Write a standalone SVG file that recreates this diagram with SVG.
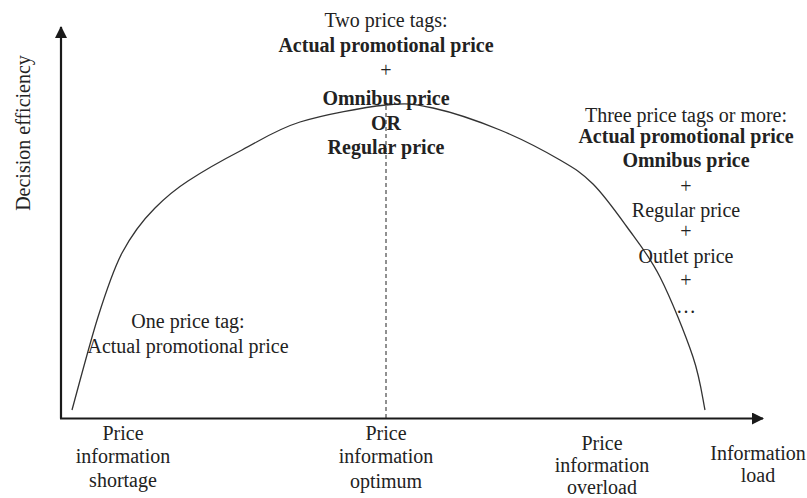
<svg xmlns="http://www.w3.org/2000/svg" width="807" height="498" viewBox="0 0 807 498">
<style>
  text { font-family: "Liberation Serif", "Times New Roman", serif; font-size: 20px; fill: #222; text-anchor: middle; }
  .b { font-weight: bold; }
  .axis { stroke: #1a1a1a; stroke-width: 2.2; fill: none; }
  .curve { stroke: #333; stroke-width: 1.3; fill: none; }
  .dash { stroke: #222; stroke-width: 1; stroke-dasharray: 4 3; fill: none; }
</style>
<defs>
  <marker id="arrow" viewBox="0 0 12 12" refX="11" refY="6" markerWidth="12" markerHeight="12" markerUnits="userSpaceOnUse" orient="auto">
    <path d="M0,0 L12,6 L0,12 Z" fill="#1a1a1a"/>
  </marker>
</defs>
<rect width="807" height="498" fill="#fff"/>
<g id="connectors">
  <path class="axis" d="M61,418.5 L61,27" marker-end="url(#arrow)"/>
  <path class="axis" d="M60,418.5 L763,418.5" marker-end="url(#arrow)"/>
  <path class="dash" d="M386,106 L386,418"/>
  <path class="curve" d="M72,410 C76.3,394.5 89.7,343.3 98,317 C106.3,290.7 113,270.3 122,253 C131,236 143,220 155,208 C167,196 174,190 188,181 C202.5,171.5 223.3,159.7 242,150 C260.7,140.3 276,129.5 300,122 C324,114.5 363.8,107.3 386,105 C408.2,102.7 414,103.8 433,108 C452,112.2 478.8,121.3 500,130 C521.2,138.7 544.5,151 560,160 C575.5,169 581.8,172.8 593,184 C604.2,195.2 615.8,211.5 627,227 C638.2,242.5 649,255.3 660,277 C671,298.7 685.5,334.8 693,357 C700.5,379.2 703,401.2 705,410"/>
</g>
<g id="y-label">
  <text transform="translate(30,133) rotate(-90)">Decision efficiency</text>
</g>
<g id="two-tags">
  <text x="386" y="27">Two price tags:</text>
  <text class="b" x="386" y="52">Actual promotional price</text>
  <text x="386" y="77">+</text>
  <text class="b" x="386" y="105">Omnibus price</text>
  <text class="b" x="386" y="130">OR</text>
  <text class="b" x="386" y="154">Regular price</text>
</g>
<g id="three-tags">
  <text x="686" y="122">Three price tags or more:</text>
  <text class="b" x="686" y="143">Actual promotional price</text>
  <text class="b" x="686" y="167">Omnibus price</text>
  <text x="686" y="193">+</text>
  <text x="686" y="217">Regular price</text>
  <text x="686" y="238">+</text>
  <text x="686" y="263">Outlet price</text>
  <text x="686" y="287">+</text>
  <text x="686" y="313">…</text>
</g>
<g id="one-tag">
  <text x="188" y="328">One price tag:</text>
  <text x="188" y="353">Actual promotional price</text>
</g>
<g id="shortage">
  <text x="123" y="440">Price</text>
  <text x="123" y="463">information</text>
  <text x="123" y="487">shortage</text>
</g>
<g id="optimum">
  <text x="386" y="440">Price</text>
  <text x="386" y="463">information</text>
  <text x="386" y="488">optimum</text>
</g>
<g id="overload">
  <text x="602" y="450">Price</text>
  <text x="602" y="472">information</text>
  <text x="602" y="494">overload</text>
</g>
<g id="x-label">
  <text x="758" y="460">Information</text>
  <text x="758" y="482">load</text>
</g>
</svg>
